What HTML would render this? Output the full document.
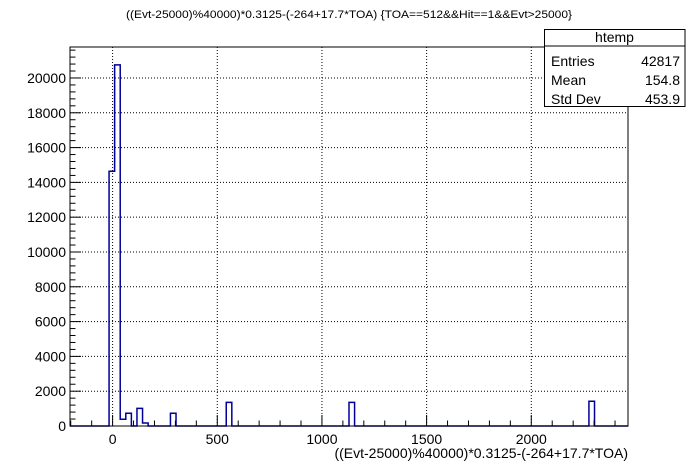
<!DOCTYPE html>
<html><head><meta charset="utf-8">
<style>html,body{margin:0;padding:0;background:#fff;}svg{display:block;font-family:"Liberation Sans",Arial,sans-serif;}</style>
</head><body>
<svg id="chart" width="698" height="474" viewBox="0 0 698 474">
<rect x="0" y="0" width="698" height="474" fill="#fff"/>
<text x="349" y="18" font-size="11" text-anchor="middle" textLength="446" lengthAdjust="spacingAndGlyphs">((Evt-25000)%40000)*0.3125-(-264+17.7*TOA) {TOA==512&amp;&amp;Hit==1&amp;&amp;Evt&gt;25000}</text>
<g id="grid"></g>
<g id="hist"></g>
<rect x="70" y="47" width="558" height="379" fill="none" stroke="#000" stroke-width="1"/>
<g id="axes"></g>
<text x="628" y="458" font-size="14" text-anchor="end">((Evt-25000)%40000)*0.3125-(-264+17.7*TOA)</text>
<g>
<rect x="544.5" y="29.5" width="140.5" height="77" fill="#fff" stroke="#000"/>
<line x1="544.5" y1="46" x2="685" y2="46" stroke="#000"/>
<text x="614.5" y="42" font-size="14" text-anchor="middle">htemp</text>
<text x="551" y="66" font-size="14">Entries</text>
<text x="680" y="66" font-size="14" text-anchor="end">42817</text>
<text x="551" y="85" font-size="14">Mean</text>
<text x="680" y="85" font-size="14" text-anchor="end">154.8</text>
<text x="551" y="104" font-size="14">Std Dev</text>
<text x="680" y="104" font-size="14" text-anchor="end">453.9</text>
</g>
</svg>
<script>
const binIndices = [7, 8, 9, 10, 12, 13, 18, 28, 50, 93];
const binCounts = [14640, 20750, 390, 730, 1015, 170, 730, 1360, 1360, 1420];
const xTickValues = [0, 500, 1000, 1500, 2000];
const xTickLabels = ["0", "500", "1000", "1500", "2000"];
const yTickValues = [0, 2000, 4000, 6000, 8000, 10000, 12000, 14000, 16000, 18000, 20000];
const yTickLabels = ["0", "2000", "4000", "6000", "8000", "10000", "12000", "14000", "16000", "18000", "20000"];

const NS = "http://www.w3.org/2000/svg";
const L = 70, R = 628, T = 47, B = 426;
const xMin = -203.5, xMax = 2462, yMax = 21780, nBins = 100;
const binW = (xMax - xMin) / nBins;
const xs = v => L + (v - xMin) / (xMax - xMin) * (R - L);
const ys = v => B - v / yMax * (B - T);
function mk(tag, attrs, parent) {
  const e = document.createElementNS(NS, tag);
  for (const k in attrs) e.setAttribute(k, attrs[k]);
  parent.appendChild(e);
  return e;
}
const grid = document.getElementById('grid');
const axes = document.getElementById('axes');
const hist = document.getElementById('hist');

xTickValues.forEach((v, i) => {
  const x = xs(v);
  const g = mk('line', {x1: x, y1: T, x2: x, y2: B, stroke: '#000', 'stroke-dasharray': '1,2'}, grid);
  
  
  const t = mk('text', {x: x, y: 444, 'font-size': 14, 'text-anchor': 'middle'}, axes);
  t.textContent = xTickLabels[i];
  
  
});
for (let v = -200; v <= 2400; v += 100) {
  const x = xs(v);
  const len = (v % 500 === 0) ? 11 : 5.5;
  const tk = mk('line', {x1: x, y1: B, x2: x, y2: B - len, stroke: '#000'}, axes);
  
  
}
yTickValues.forEach((v, i) => {
  const y = ys(v);
  if (v > 0) {
    const g = mk('line', {x1: L, y1: y, x2: R, y2: y, stroke: '#000', 'stroke-dasharray': '1,2'}, grid);
    
    
  }
  const t = mk('text', {x: 66, y: y + 5, 'font-size': 14, 'text-anchor': 'end'}, axes);
  t.textContent = yTickLabels[i];
  
  
});
for (let v = 0; v <= yMax; v += 400) {
  const y = ys(v);
  const len = (v % 2000 === 0) ? 11 : 5.5;
  const tk = mk('line', {x1: L, y1: y, x2: L + len, y2: y, stroke: '#000'}, axes);
  
  
}
// histogram outline
const counts = new Array(nBins).fill(0);
binIndices.forEach((b, i) => { counts[b] = binCounts[i]; });
let d = 'M' + L + ',' + B;
for (let b = 0; b < nBins; b++) {
  const x0 = xs(xMin + b * binW), x1 = xs(xMin + (b + 1) * binW), y = ys(counts[b]);
  d += ' L' + x0 + ',' + y + ' L' + x1 + ',' + y;
}
d += ' L' + R + ',' + B;
const p = mk('path', {d: d, fill: 'none', stroke: '#000099', 'stroke-width': 1.5}, hist);


</script>
</body></html>
